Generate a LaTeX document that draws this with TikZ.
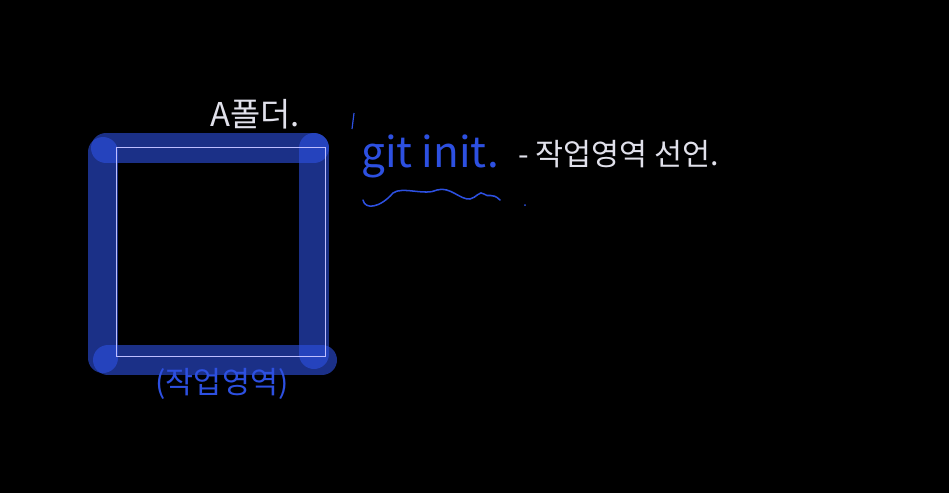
\documentclass[tikz,border=0pt]{standalone}
\usepackage{fontspec}
\newfontfamily\kr{Noto Sans CJK KR}
\usetikzlibrary{positioning}
\definecolor{pen}{RGB}{45,80,225}
\definecolor{chalk}{RGB}{225,225,235}
\definecolor{frame}{RGB}{190,190,255}

\begin{document}
\begin{tikzpicture}[x=0.03cm,y=-0.03cm,
  marker/.style={draw=pen,opacity=0.6,line width=0.9cm,line cap=round},
  whitetext/.style={text=chalk,font=\kr\fontsize{28}{32}\selectfont},
  bluetext/.style={text=pen,font=\kr\fontsize{26}{30}\selectfont}]
  \fill[black] (0,0) rectangle (949,493);
  \useasboundingbox (0,0) rectangle (949,493);
  % highlighted folder box
  \draw[marker] (106,148) -- (314,148);
  \draw[marker] (103,152) -- (103,358);
  \draw[marker] (314,148) -- (314,354);
  \draw[marker] (108,360) -- (322,360);
  \draw[frame,line width=0.7pt] (116,147) rectangle (325,356);
  % labels
  \node[whitetext] (folder) at (255,114) {A폴더.};
  \node[bluetext] (area) at (222,384) {(작업영역)};
  \node[bluetext,font=\kr\fontsize{36}{40}\selectfont] (cmd) at (430,156) {git init.};
  \node[whitetext,font=\kr\fontsize{26}{30}\selectfont,anchor=west] (desc) at (514,154) {- 작업영역 선언.};
  \coordinate (tick) at (354,113);
  \draw[pen,line width=1pt] (tick) -- ++(-2,16);
  % wavy underline
  \coordinate (wave) at (363,200);
  \draw[pen,line width=1.3pt,line cap=round] (wave)
    .. controls (365,210) and (380,208) .. (393,193)
    .. controls (402,186) and (425,196) .. (437,190)
    .. controls (450,186) and (460,200) .. (470,199)
    .. controls (476,198) and (480,190) .. (484,194)
    .. controls (488,198) and (492,192) .. (500,200);
  \fill[pen] (525,205) circle (1);
\end{tikzpicture}
\end{document}
